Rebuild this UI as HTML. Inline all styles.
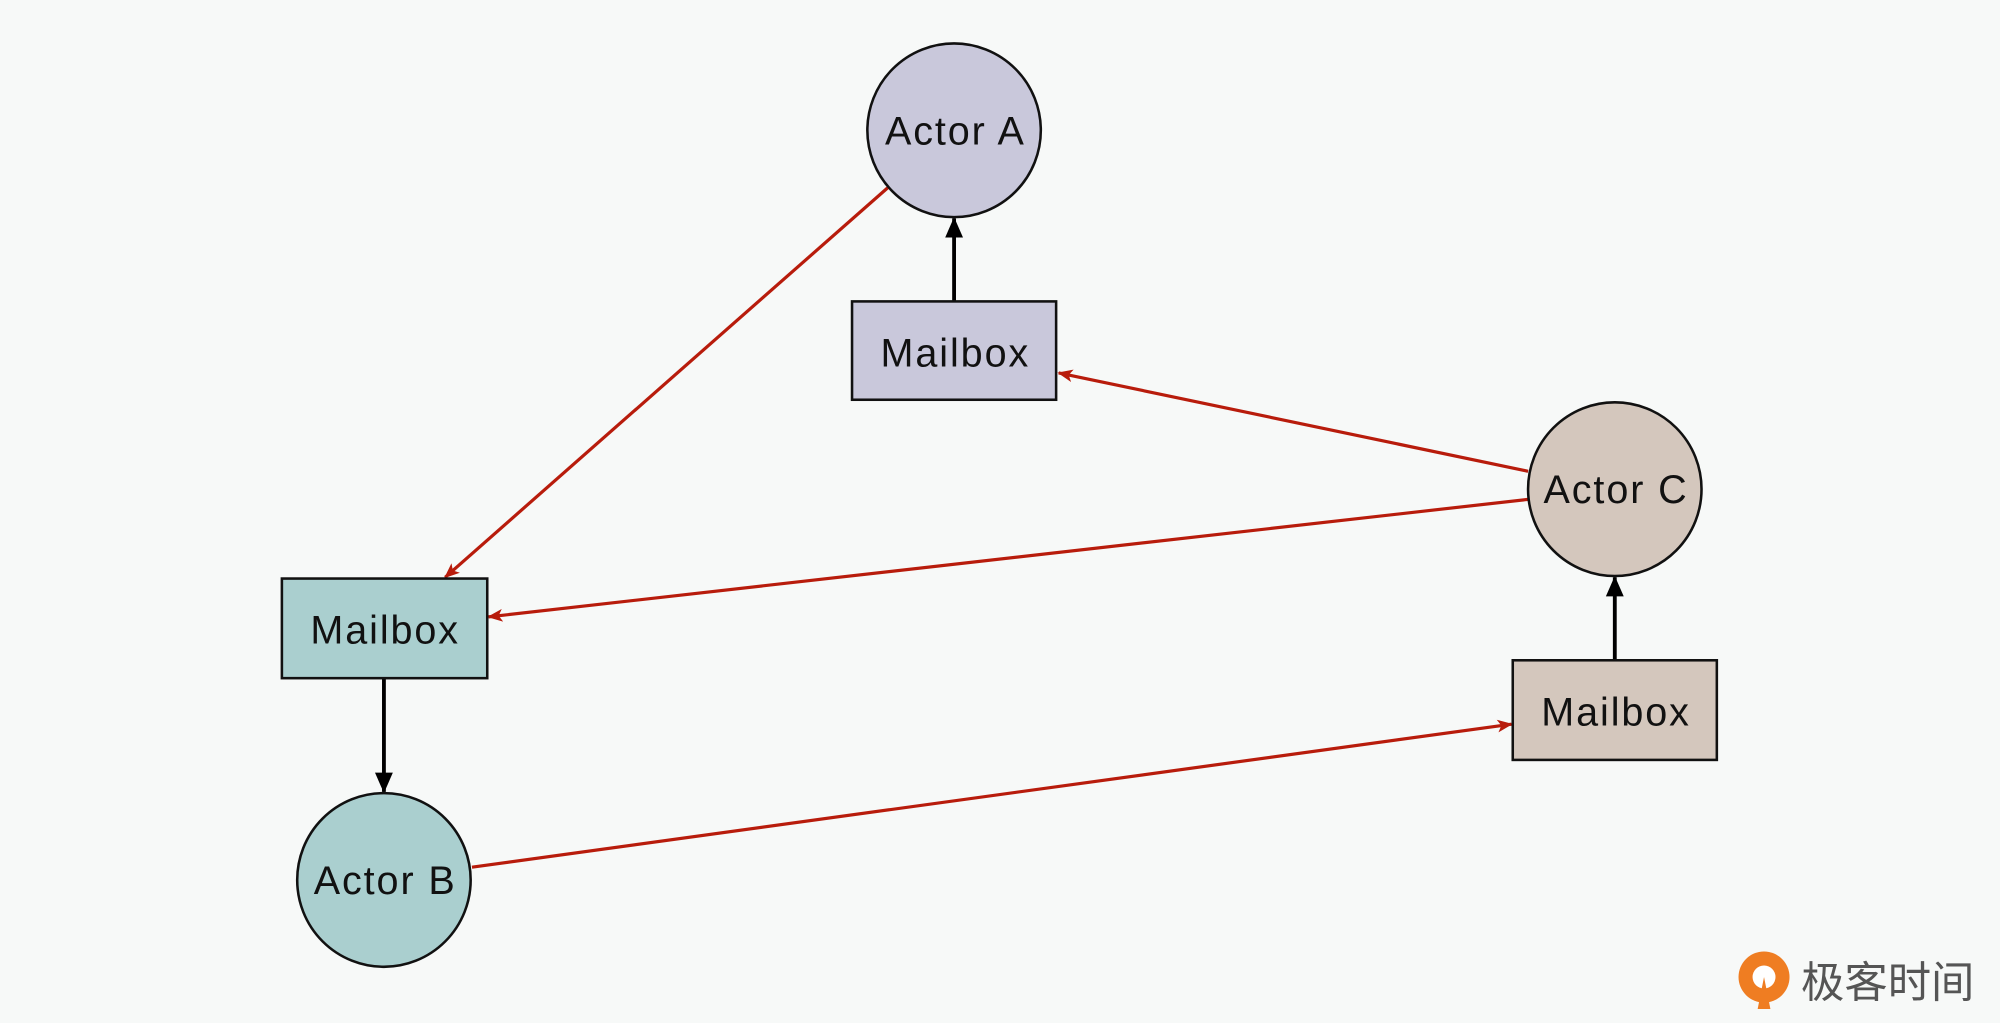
<!DOCTYPE html>
<html><head><meta charset="utf-8"><style>
html,body{margin:0;padding:0;background:#f7f9f8;}
svg{display:block;}
text{font-family:"Liberation Sans","Noto Sans CJK SC",sans-serif;}
</style></head><body>
<svg width="2000" height="1023" viewBox="0 0 1568 801" preserveAspectRatio="none" xmlns="http://www.w3.org/2000/svg">
<defs>
<marker id="bk" markerWidth="16" markerHeight="16" refX="15" refY="8" orient="auto" markerUnits="userSpaceOnUse" viewBox="0 0 16 16"><path d="M0,1 L16,8 L0,15 z" fill="#000"/></marker>
<marker id="rd" markerWidth="12" markerHeight="10" refX="11" refY="5" orient="auto" markerUnits="userSpaceOnUse" viewBox="0 0 12 10"><path d="M0,0 L12,5 L0,10 L3,5 z" fill="#b81c0c"/></marker>
</defs>
<rect width="1568" height="801" fill="#f7f9f8"/>
<g stroke="#b81c0c" stroke-width="2.5" fill="none">
<line x1="696" y1="147" x2="349" y2="452" marker-end="url(#rd)"/>
<line x1="1198" y1="369" x2="830" y2="292" marker-end="url(#rd)"/>
<line x1="1198" y1="391" x2="383" y2="483" marker-end="url(#rd)"/>
<line x1="370" y1="679" x2="1185" y2="567" marker-end="url(#rd)"/>
</g>
<g stroke="#000" stroke-width="3">
<line x1="748" y1="236" x2="748" y2="171" marker-end="url(#bk)"/>
<line x1="1266" y1="517" x2="1266" y2="452" marker-end="url(#bk)"/>
<line x1="301" y1="531" x2="301" y2="620" marker-end="url(#bk)"/>
</g>
<g stroke="#111" stroke-width="2">
<circle cx="748" cy="102" r="68" fill="#c9c8db"/>
<rect x="668" y="236" width="160" height="77" fill="#c9c8db"/>
<circle cx="1266" cy="383" r="68" fill="#d4c7bd"/>
<rect x="1186" y="517" width="160" height="78" fill="#d4c7bd"/>
<rect x="221" y="453" width="161" height="78" fill="#aacfcf"/>
<circle cx="301" cy="689" r="68" fill="#aacfcf"/>
</g>
<g font-size="31" fill="#111" text-anchor="middle" letter-spacing="1.5">
<text x="749" y="113">Actor A</text>
<text x="749" y="287">Mailbox</text>
<text x="1267" y="394">Actor C</text>
<text x="1267" y="568">Mailbox</text>
<text x="302" y="504">Mailbox</text>
<text x="302" y="700">Actor B</text>
</g>
<circle cx="1383" cy="765" r="20" fill="#ef7d22"/>
<circle cx="1383" cy="765" r="9" fill="#fff"/>
<path d="M1383 765 L1378 790 L1388 790 z" fill="#ef7d22"/>
<text x="1412" y="781" font-size="34" fill="#555">极客时间</text>
</svg>
</body></html>
